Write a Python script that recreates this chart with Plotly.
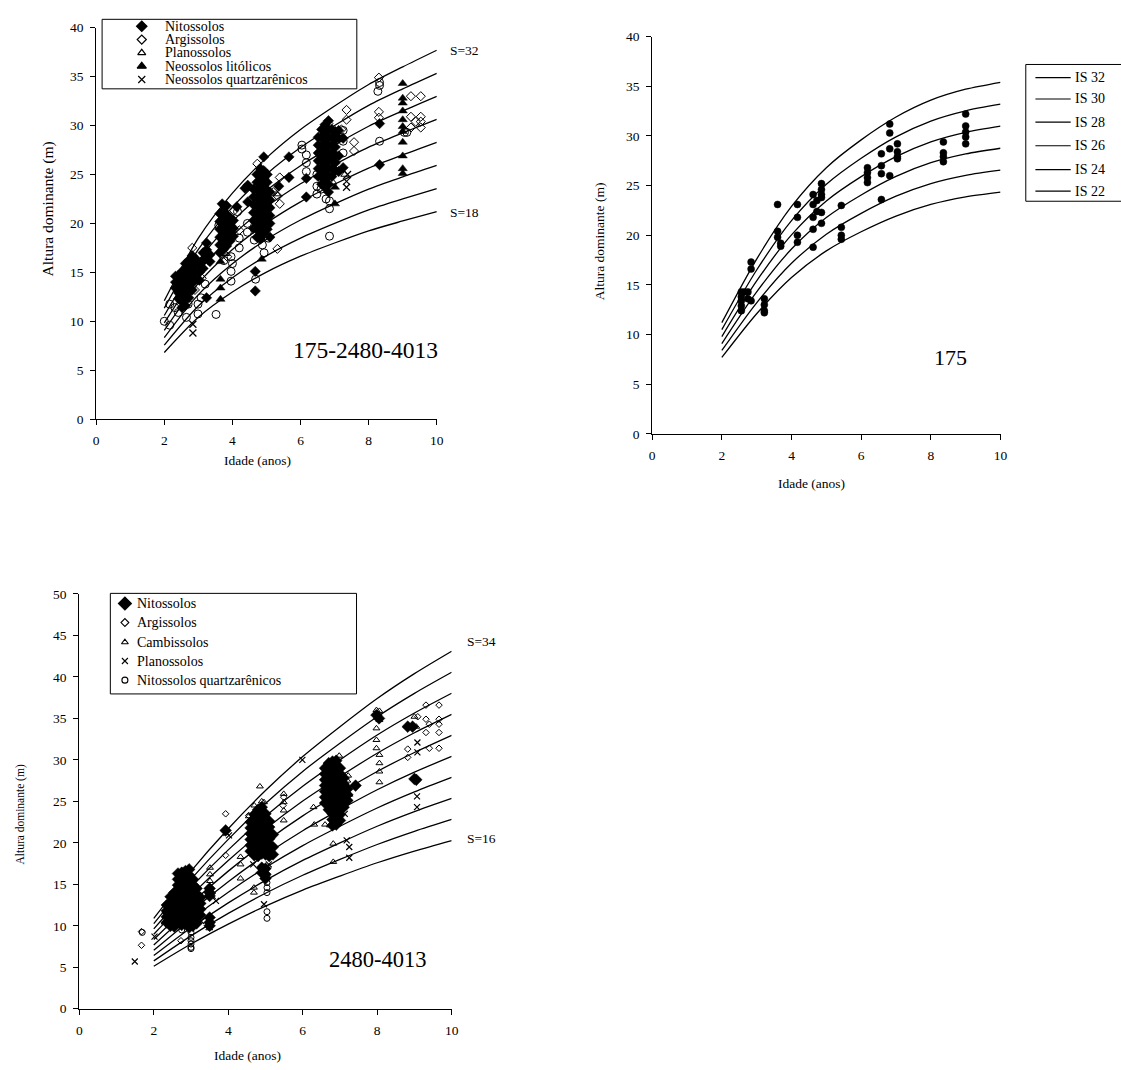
import plotly.graph_objects as go

W, H = 1121, 1070
FONT = "Liberation Serif"

# ---------------------------------------------------------------- site curves
AGES = [2, 3, 4, 5, 6, 7, 8, 9, 10]

# Panel A: 175-2480-4013 (site index S=32 ... S=18)
SITE_A = [32, 30, 28, 26, 24, 22, 20, 18]
CURVES_A = [
    [12.10, 18.50, 23.10, 26.70, 29.60, 32.00, 34.20, 36.00, 37.70],
    [11.34, 17.34, 21.66, 25.03, 27.75, 30.00, 32.06, 33.75, 35.34],
    [10.59, 16.19, 20.21, 23.36, 25.90, 28.00, 29.93, 31.50, 32.99],
    [9.83, 15.03, 18.77, 21.69, 24.05, 26.00, 27.79, 29.25, 30.63],
    [9.08, 13.88, 17.33, 20.03, 22.20, 24.00, 25.65, 27.00, 28.28],
    [8.32, 12.72, 15.88, 18.36, 20.35, 22.00, 23.51, 24.75, 25.92],
    [7.56, 11.56, 14.44, 16.69, 18.50, 20.00, 21.38, 22.50, 23.56],
    [6.81, 10.41, 12.99, 15.02, 16.65, 18.00, 19.24, 20.25, 21.21],
]

# Panel B: 175 (IS 32 ... IS 22)
SITE_B = [32, 30, 28, 26, 24, 22]
CURVES_B = [
    [11.20, 17.60, 22.90, 26.80, 29.60, 31.90, 33.60, 34.70, 35.40],
    [10.50, 16.50, 21.47, 25.13, 27.75, 29.91, 31.50, 32.53, 33.19],
    [9.80, 15.40, 20.04, 23.45, 25.90, 27.91, 29.40, 30.36, 30.98],
    [9.10, 14.30, 18.61, 21.78, 24.05, 25.92, 27.30, 28.19, 28.76],
    [8.40, 13.20, 17.18, 20.10, 22.20, 23.93, 25.20, 26.03, 26.55],
    [7.70, 12.10, 15.74, 18.43, 20.35, 21.93, 23.10, 23.86, 24.34],
]

# Panel C: 2480-4013 (S=34 ... S=16)
SITE_C = [34, 32, 30, 28, 26, 24, 22, 20, 18, 16]
CURVES_C = [
    [10.90, 16.60, 21.70, 26.30, 30.40, 34.00, 37.40, 40.40, 43.10],
    [10.26, 15.62, 20.42, 24.75, 28.61, 32.00, 35.20, 38.02, 40.56],
    [9.62, 14.65, 19.15, 23.21, 26.82, 30.00, 33.00, 35.65, 38.03],
    [8.98, 13.67, 17.87, 21.66, 25.04, 28.00, 30.80, 33.27, 35.49],
    [8.34, 12.69, 16.59, 20.11, 23.25, 26.00, 28.60, 30.89, 32.96],
    [7.69, 11.72, 15.32, 18.56, 21.46, 24.00, 26.40, 28.52, 30.42],
    [7.05, 10.74, 14.04, 17.02, 19.67, 22.00, 24.20, 26.14, 27.89],
    [6.41, 9.76, 12.76, 15.47, 17.88, 20.00, 22.00, 23.76, 25.35],
    [5.77, 8.79, 11.49, 13.92, 16.09, 18.00, 19.80, 21.39, 22.82],
    [5.13, 7.81, 10.21, 12.38, 14.31, 16.00, 17.60, 19.01, 20.28],
]

# ---------------------------------------------------------------- plot data
# each entry: (age in years, [dominant heights in m])
NITO_A = [
    (2.33, [14.6, 14.0, 13.4]),
    (2.42, [14.7, 14.1, 13.5, 12.9, 12.3]),
    (2.52, [15.1, 14.5, 13.9, 13.2, 12.6, 12.0, 11.4]),
    (2.62, [15.9, 15.3, 14.7, 14.1, 13.5, 12.9, 12.2, 11.6]),
    (2.72, [16.2, 15.6, 15.0, 14.3, 13.7, 13.0, 12.4]),
    (2.82, [16.7, 16.0, 15.3, 14.6, 13.9, 13.2]),
    (2.92, [16.4, 15.7, 15.0, 14.3]),
    (3.03, [15.8, 15.0, 14.2]),
    (3.14, [17.0, 16.2, 15.4]),
    (3.24, [18.0, 17.3, 16.5, 12.4]),
    (3.34, [16.8, 16.1]),
    (3.63, [21.0, 20.2, 19.4, 18.6, 17.8, 17.0]),
    (3.70, [22.0]),
    (3.73, [21.3, 20.5, 19.7, 18.9, 18.1, 17.3]),
    (3.83, [21.8, 20.9, 20.1, 19.3, 18.5, 17.7]),
    (3.93, [20.6, 19.8, 19.0, 18.2]),
    (4.03, [20.3, 19.5, 18.7]),
    (4.13, [21.7]),
    (4.37, [23.6]),
    (4.45, [23.9, 22.2]),
    (4.62, [23.5, 22.7, 21.9, 21.1, 20.3, 19.5]),
    (4.67, [15.1, 13.1]),
    (4.72, [25.0, 24.2, 23.4, 22.6, 21.8, 21.0, 20.2, 19.4, 18.6]),
    (4.82, [25.6, 24.8, 24.0, 23.2, 22.4, 21.6, 20.8, 20.0, 19.2, 18.4]),
    (4.92, [26.8, 25.4, 24.6, 23.8, 23.0, 22.2, 21.4, 20.6, 19.8, 19.0]),
    (5.02, [25.0, 24.2, 23.4, 22.6, 21.8, 21.0, 20.2, 19.4]),
    (5.10, [23.2, 22.4, 21.6, 20.8, 20.0, 18.6]),
    (5.36, [23.8]),
    (5.66, [26.8, 24.7]),
    (6.17, [24.6, 22.7]),
    (6.52, [28.8, 28.0, 27.2, 26.4, 25.6, 24.8]),
    (6.62, [29.6, 28.8, 28.0, 27.2, 26.4, 25.6, 24.8, 24.0]),
    (6.72, [30.1, 29.3, 28.5, 27.7, 26.9, 26.1, 25.3, 24.5, 23.7]),
    (6.82, [30.5, 29.6, 28.8, 28.0, 27.2, 26.4, 25.6, 24.8, 24.0, 23.2]),
    (6.92, [29.6, 28.8, 28.0, 27.2, 26.4, 25.6, 24.8]),
    (7.02, [29.4, 28.6, 27.8, 27.0, 26.2, 25.4]),
    (7.12, [29.5, 28.7, 26.9, 25.3]),
    (7.25, [28.7, 25.7]),
    (8.32, [30.2, 26.0]),
]
ARGI_A = [
    (2.50, [12.6]), (2.82, [17.5]), (2.90, [13.2]), (3.10, [14.4]), (3.30, [16.2]),
    (3.85, [16.6]), (4.05, [21.3]), (4.20, [19.3]), (4.73, [26.1]),
    (5.20, [23.2]), (5.32, [17.4]), (5.33, [22.8]), (5.39, [24.7, 22.0]),
    (6.82, [30.2]), (6.96, [26.7]), (7.20, [29.6]), (7.35, [31.6, 30.6]),
    (7.57, [28.3, 27.4]), (8.30, [34.9, 31.4, 30.8]),
    (9.24, [33.0, 30.9, 29.8]), (9.38, [30.4]), (9.53, [33.0, 30.9, 30.4, 29.8]),
]
PLANO_A = [(2.90, [14.0]), (3.80, [16.9]), (5.30, [23.0]), (6.95, [24.2]), (7.30, [25.0])]
LITO_A = [
    (3.65, [16.1, 14.3, 13.4, 12.25]), (4.86, [16.35]), (7.01, [23.7, 22.0]), (7.05, [28.6]),
    (9.00, [34.3, 32.8, 32.3, 31.5, 30.6, 29.9, 29.4, 28.3, 26.9, 25.6, 25.1]),
]
QUARTZ_A = [(2.84, [9.7, 8.8]), (7.35, [24.3, 23.7]), (7.38, [25.0])]
CIRCLE_A = [
    (2.00, [10.0]), (2.16, [11.75, 9.6]), (2.31, [11.4]), (2.41, [10.9]), (2.55, [13.0]),
    (2.65, [10.4]), (2.70, [11.75]), (2.99, [11.75, 10.75]), (3.08, [12.4]), (3.20, [13.8]),
    (3.52, [10.7]), (3.60, [19.8]), (3.75, [16.2]), (3.96, [16.6, 15.1, 14.1]), (4.00, [15.9]),
    (4.15, [21.2]), (4.20, [18.5, 17.5]), (4.44, [20.0, 19.1]), (4.64, [18.3]), (4.68, [14.3]),
    (4.85, [19.5]), (4.88, [17.8]), (4.93, [17.0]), (5.05, [18.5]),
    (6.04, [28.0, 27.6]), (6.17, [27.0, 26.2, 25.3]), (6.48, [25.0, 23.8, 23.0]), (6.60, [23.5]),
    (6.75, [22.5]), (6.85, [22.3, 21.5, 18.7]), (6.90, [25.0]), (7.25, [29.5, 28.4, 27.2]),
    (8.27, [33.5]), (8.32, [34.4, 34.1, 28.4]), (9.05, [29.3]), (9.12, [29.3]),
]

DOTS_B = [
    (2.56, [14.3, 13.8, 13.4, 12.9, 12.4]),
    (2.65, [14.3]),
    (2.75, [14.3, 13.6]),
    (2.84, [17.3, 16.6, 13.4]),
    (3.22, [13.6, 13.0, 12.4, 12.2]),
    (3.60, [23.1, 20.4, 19.8]),
    (3.69, [19.2, 18.9]),
    (4.17, [23.1, 21.8, 20.0, 19.3]),
    (4.62, [24.1, 23.1, 21.8, 20.6, 18.8]),
    (4.73, [23.5, 22.4]),
    (4.86, [25.2, 24.6, 24.1, 23.8, 22.3, 21.2]),
    (5.43, [23.0, 20.8, 20.0, 19.6]),
    (6.18, [26.8, 26.3, 25.8, 25.3]),
    (6.58, [28.2, 27.0, 26.2, 23.6]),
    (6.82, [31.2, 30.3, 28.7, 26.0]),
    (7.04, [29.2, 28.4, 27.9, 27.7]),
    (8.36, [29.4, 28.3, 27.9, 27.4]),
    (9.00, [32.2, 31.0, 30.4, 29.9, 29.2]),
]

NITO_C = [
    (2.35, [12.5, 11.8, 11.1, 10.4]),
    (2.45, [13.5, 12.8, 12.1, 11.4, 10.7, 10.0]),
    (2.55, [14.0, 13.3, 12.6, 11.9, 11.2, 10.5, 9.9]),
    (2.65, [16.3, 15.6, 14.9, 14.2, 13.5, 12.8, 12.1, 11.4, 10.7]),
    (2.75, [16.4, 15.7, 15.0, 14.3, 13.6, 12.9, 12.2, 11.5, 10.8, 10.1]),
    (2.85, [16.6, 15.9, 15.2, 14.5, 13.8, 13.1, 12.4, 11.7, 11.0, 10.3]),
    (2.95, [16.8, 16.1, 15.4, 14.7, 14.0, 13.3, 12.6, 11.9, 11.2, 10.5, 9.8]),
    (3.05, [15.6, 14.9, 14.2, 13.5, 12.8, 12.1, 11.4, 10.7, 10.0]),
    (3.15, [14.5, 13.8, 13.1, 12.4, 11.7, 11.0, 10.3]),
    (3.25, [13.4, 12.7, 12.0, 11.3]),
    (3.50, [14.5, 14.0, 13.6, 11.0, 10.4, 10.0]),
    (3.93, [21.5]),
    (4.60, [22.5, 21.8, 21.1, 20.4, 19.7, 19.0]),
    (4.70, [23.4, 22.7, 22.0, 21.3, 20.6, 19.9, 19.2, 18.5]),
    (4.80, [24.0, 23.3, 22.6, 21.9, 21.2, 20.5, 19.8, 19.1, 18.4]),
    (4.90, [24.3, 23.6, 22.9, 22.2, 21.5, 20.8, 20.1, 19.4, 18.7, 17.0, 16.4]),
    (5.00, [23.5, 22.8, 22.1, 21.4, 20.7, 20.0, 19.3, 18.6, 16.9, 16.2, 15.7]),
    (5.10, [22.6, 21.9, 21.2, 20.5, 19.8, 19.1, 18.4]),
    (5.20, [21.0, 19.5, 18.6]),
    (6.60, [29.0, 28.3, 27.6, 26.9, 26.2, 25.5, 24.8]),
    (6.70, [29.6, 28.9, 28.2, 27.5, 26.8, 26.1, 25.4, 24.7, 24.0]),
    (6.80, [29.8, 29.1, 28.4, 27.7, 27.0, 26.3, 25.6, 24.9, 24.2, 23.5, 22.8, 22.1]),
    (6.90, [29.9, 29.2, 28.5, 27.8, 27.1, 26.4, 25.7, 25.0, 24.3, 23.6, 22.9, 22.2]),
    (7.00, [29.0, 28.3, 27.6, 26.9, 26.2, 25.5, 24.8, 24.1, 23.4, 22.7]),
    (7.10, [27.8, 27.1, 26.4, 25.7, 25.0, 24.3]),
    (7.20, [26.5, 25.8, 25.1]),
    (7.42, [26.9]),
    (7.98, [35.4]), (8.05, [35.0]),
    (8.82, [34.0]), (8.95, [34.0]),
    (9.00, [27.7]), (9.05, [27.6]),
]
ARGI_C = [
    (1.67, [9.3, 7.65]), (2.40, [11.5]), (2.66, [14.8]), (2.73, [8.2]),
    (3.93, [23.5, 18.5]), (4.55, [23.3]), (5.47, [24.5]), (5.49, [25.5]),
    (8.82, [31.3, 30.3]), (9.00, [34.0]), (9.09, [35.2]), (9.31, [36.6, 34.9, 33.3]),
    (9.40, [34.3, 31.4]), (9.66, [36.6, 34.9, 34.3, 33.3, 31.4]),
]
CAMBI_C = [
    (2.29, [10.4]), (2.35, [11.2]), (3.49, [9.7]), (3.51, [17.0, 16.2, 15.4]),
    (4.33, [18.3, 17.4, 15.7]), (4.55, [23.2]), (4.60, [19.0]), (4.69, [14.6, 14.0]),
    (4.70, [24.5]), (4.85, [26.8]), (4.90, [25.0]), (4.96, [24.9]), (5.10, [19.3]),
    (5.15, [21.0]), (5.49, [25.9, 24.9, 23.9, 22.7]), (6.29, [24.3]), (6.31, [22.2]),
    (6.60, [22.2]), (6.73, [22.1]), (6.80, [24.0]), (6.82, [19.9, 17.7]), (6.98, [30.5]),
    (7.20, [27.5]), (7.22, [28.1]), (7.25, [25.8]),
    (7.98, [36.0, 33.8, 32.4, 31.4]), (8.06, [35.9, 34.8, 30.6, 29.6, 28.6, 27.3]),
    (9.00, [35.2]), (9.05, [34.0]),
]
PLANO_C = [
    (1.49, [5.7]), (2.02, [8.7]), (2.30, [11.3]), (2.56, [11.8]), (3.27, [10.6]),
    (3.58, [13.6]), (3.67, [13.0]), (3.95, [21.2]), (4.02, [20.9]), (4.67, [17.4]),
    (4.96, [12.6]), (5.00, [19.4]), (5.09, [17.4]), (5.99, [30.0]),
    (7.13, [23.5]), (7.18, [20.3]), (7.25, [19.5, 18.2]),
    (9.07, [25.6, 24.3]), (9.08, [32.1, 30.9]),
]
CIRCLE_C = [
    (1.69, [9.2]), (2.75, [9.5]), (3.00, [9.2, 8.6, 8.2, 7.8, 7.4, 7.25]),
    (5.04, [16.0, 15.2, 14.6, 14.0, 11.7, 10.9]),
]

# ---------------------------------------------------------------- helpers
def flatten(groups):
    xs, ys = [], []
    for age, heights in groups:
        for h in heights:
            xs.append(age)
            ys.append(h)
    return xs, ys


def pxx(x):
    return x / W


def pxy(y):
    return 1 - y / H


fig = go.Figure()


def add_curves(curves, xa, ya, width=1.3):
    for ys in curves:
        fig.add_trace(go.Scatter(
            x=AGES, y=ys, mode="lines", xaxis=xa, yaxis=ya,
            line=dict(color="black", width=width, shape="spline", smoothing=0.8),
            hoverinfo="skip", showlegend=False))


def add_points(groups, xa, ya, symbol, size, lw=1.0):
    xs, ys = flatten(groups)
    fig.add_trace(go.Scatter(
        x=xs, y=ys, mode="markers", xaxis=xa, yaxis=ya, showlegend=False,
        marker=dict(symbol=symbol, size=size, color="black",
                    line=dict(color="black", width=lw))))


# ---------------------------------------------------------------- panel A
add_curves(CURVES_A, "x", "y")
add_points(CIRCLE_A, "x", "y", "circle-open", 8, 1.0)
add_points(NITO_A, "x", "y", "diamond", 8, 0.5)
add_points(ARGI_A, "x", "y", "diamond-open", 7, 1.0)
add_points(PLANO_A, "x", "y", "triangle-up-open", 7, 1.0)
add_points(LITO_A, "x", "y", "triangle-up", 8, 0.5)
add_points(QUARTZ_A, "x", "y", "x-thin", 7, 1.2)

# ---------------------------------------------------------------- panel B
add_curves(CURVES_B, "x2", "y2")
add_points(DOTS_B, "x2", "y2", "circle", 7, 0.5)

# ---------------------------------------------------------------- panel C
add_curves(CURVES_C, "x3", "y3")
add_points(NITO_C, "x3", "y3", "diamond", 9, 0.5)
add_points(ARGI_C, "x3", "y3", "diamond-open", 5, 1.0)
add_points(CAMBI_C, "x3", "y3", "triangle-up-open", 6, 1.0)
add_points(PLANO_C, "x3", "y3", "x-thin", 6, 1.2)
add_points(CIRCLE_C, "x3", "y3", "circle-open", 6, 1.0)

# ---------------------------------------------------------------- legend keys (page pixel overlay)
LEG_A_LABELS = ["Nitossolos", "Argissolos", "Planossolos", "Neossolos litólicos",
                "Neossolos quartzarênicos"]
LEG_A_SYMBOLS = [("diamond", 8), ("diamond-open", 7), ("triangle-up-open", 7),
                 ("triangle-up", 8), ("x-thin", 7)]
LEG_A_ROWS = [19.5, 33.0, 46.5, 60.0, 73.5]

LEG_C_LABELS = ["Nitossolos", "Argissolos", "Cambissolos", "Planossolos",
                "Nitossolos quartzarênicos"]
LEG_C_SYMBOLS = [("diamond", 10), ("diamond-open", 6), ("triangle-up-open", 6),
                 ("x-thin", 6), ("circle-open", 6)]
LEG_C_ROWS = [605.0, 624.3, 644.3, 663.3, 682.7]

LEG_B_ROWS = [71.7, 93.3, 116.7, 140.7, 165.0, 186.7]

for (sym, sz), row in zip(LEG_A_SYMBOLS, LEG_A_ROWS):
    fig.add_trace(go.Scatter(x=[140], y=[row], mode="markers", xaxis="x4", yaxis="y4",
                             showlegend=False, cliponaxis=False, hoverinfo="skip",
                             marker=dict(symbol=sym, size=sz, color="black",
                                         line=dict(color="black", width=1.2))))
for (sym, sz), row in zip(LEG_C_SYMBOLS, LEG_C_ROWS):
    fig.add_trace(go.Scatter(x=[123], y=[row], mode="markers", xaxis="x4", yaxis="y4",
                             showlegend=False, cliponaxis=False, hoverinfo="skip",
                             marker=dict(symbol=sym, size=sz, color="black",
                                         line=dict(color="black", width=1.1))))

annotations = []
shapes = []


def text(s, x, y, size, anchor="center", angle=0):
    annotations.append(dict(text=s, x=pxx(x), y=pxy(y), xref="paper", yref="paper",
                            xanchor=anchor, yanchor="middle", showarrow=False,
                            textangle=angle,
                            font=dict(family=FONT, size=size, color="black")))


def rect(x0, y0, x1, y1):
    shapes.append(dict(type="rect", xref="paper", yref="paper",
                       x0=pxx(x0), x1=pxx(x1), y0=pxy(y1), y1=pxy(y0),
                       line=dict(color="black", width=1), fillcolor="rgba(0,0,0,0)"))


# legend boxes and labels
rect(100, 12.5, 357, 83)
for lab, row in zip(LEG_A_LABELS, LEG_A_ROWS):
    text(lab, 161, row, 14, "left")

rect(1032, 58.3, 1130, 197)
for s, row in zip(SITE_B, LEG_B_ROWS):
    shapes.append(dict(type="line", xref="paper", yref="paper",
                       x0=pxx(1041.7), x1=pxx(1077.3), y0=pxy(row), y1=pxy(row),
                       line=dict(color="black", width=1.2)))
    text(f"IS {s}", 1080, row, 14, "left")

rect(108.3, 594.7, 356.7, 696.7)
for lab, row in zip(LEG_C_LABELS, LEG_C_ROWS):
    text(lab, 133.3, row, 14, "left")

# curve labels and panel captions
text(f"S={SITE_A[0]}", 465.8, 44.3, 13.5)
text(f"S={SITE_A[-1]}", 465.8, 208.3, 13.5)
text("175-2480-4013", 365.8, 347.5, 23.5)
text("175", 956.4, 355.0, 22)
text(f"S={SITE_C[0]}", 483.3, 643.3, 13.5)
text(f"S={SITE_C[-1]}", 483.3, 843.3, 13.5)
text("2480-4013", 378.0, 965.7, 22.5)

# axis titles
text("Altura dominante (m)", 45.7, 205.0, 15.5, angle=-90)
text("Idade (anos)", 256.3, 460.0, 13.5)
text("Altura dominante (m)", 602.0, 238.0, 13.5, angle=-90)
text("Idade (anos)", 816.0, 483.0, 13.5)
text("Altura dominante (m)", 16.7, 819.5, 11.5, angle=-90)
text("Idade (anos)", 246.7, 1063.0, 13.5)

# ---------------------------------------------------------------- axes
TICKFONT = dict(family=FONT, size=13.5, color="black")


def xaxis(x0, x1, anchor):
    return dict(domain=[pxx(x0), pxx(x1)], range=[0, 10], tick0=0, dtick=2,
                showline=True, linecolor="black", linewidth=1, ticks="outside",
                ticklen=5, tickwidth=1, tickcolor="black", showgrid=False,
                zeroline=False, tickfont=TICKFONT, anchor=anchor, ticklabelstandoff=4)


def yaxis(y0, y1, top, anchor):
    return dict(domain=[pxy(y1), pxy(y0)], range=[0, top], tick0=0, dtick=5,
                showline=True, linecolor="black", linewidth=1, ticks="outside",
                ticklen=5, tickwidth=1, tickcolor="black", showgrid=False,
                zeroline=False, tickfont=TICKFONT, anchor=anchor, ticklabelstandoff=4)


fig.update_layout(
    width=W, height=H, margin=dict(l=0, r=0, t=0, b=0),
    paper_bgcolor="white", plot_bgcolor="rgba(0,0,0,0)",
    showlegend=False,
    font=dict(family=FONT, color="black"),
    xaxis=xaxis(94, 437.7, "y"),
    yaxis=yaxis(21, 418, 40, "x"),
    xaxis2=xaxis(655, 1006.5, "y2"),
    yaxis2=yaxis(30, 433, 40, "x2"),
    xaxis3=xaxis(77, 452.7, "y3"),
    yaxis3=yaxis(595.3, 1016, 50, "x3"),
    xaxis4=dict(domain=[0, 1], range=[0, W], visible=False, anchor="y4"),
    yaxis4=dict(domain=[0, 1], range=[H, 0], visible=False, anchor="x4"),
    annotations=annotations,
    shapes=shapes,
)

fig.write_html("out.html")
